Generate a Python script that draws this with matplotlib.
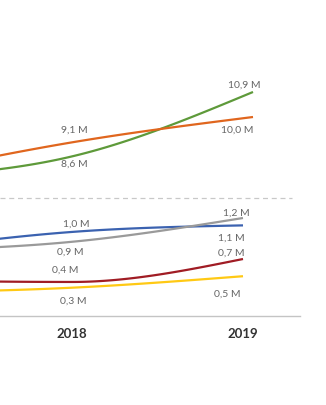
import numpy as np
import matplotlib
matplotlib.use("Agg")
import matplotlib.pyplot as plt

plt.rcParams['font.family'] = ['Lato', 'DejaVu Sans']

# data (millions); the 2017 point sits off the left edge of the crop
years = [2017, 2018, 2019]

top_green = [7.8, 8.6, 10.9]
top_orange = [7.85, 9.1, 10.0]

bot_blue = [0.8, 1.03, 1.11]
bot_gray = [0.80, 0.91, 1.20]
bot_red = [0.44, 0.42, 0.70]
bot_yellow = [0.29, 0.35, 0.49]

tick_years = [2018, 2019]
tick_labels = ["2018", "2019"]

# label texts: (series, year index, text, offset px)
top_labels = [
    ("green", 2, "10,9 M", (-9, 8)),
    ("orange", 2, "10,0 M", (-16, -12)),
    ("orange", 1, "9,1 M", (0, 13)),
    ("green", 1, "8,6 M", (0, -7)),
]
bot_labels = [
    ("gray", 2, "1,2 M", (-7, 6)),
    ("blue", 2, "1,1 M", (-12, -12)),
    ("red", 2, "0,7 M", (-12, 7)),
    ("yellow", 2, "0,5 M", (-16, -17)),
    ("blue", 1, "1,0 M", (4, 9)),
    ("gray", 1, "0,9 M", (-2, -9)),
    ("red", 1, "0,4 M", (-7, 13)),
    ("yellow", 1, "0,3 M", (1, -12)),
]

colors = {
    "green": "#5e9a3a",
    "orange": "#e0661e",
    "blue": "#3b62b0",
    "gray": "#9a9a9a",
    "red": "#a01c24",
    "yellow": "#ffc914",
}


def monotone(x, y, n=60):
    # d3 curveMonotoneX style smoothing
    x = np.asarray(x, float)
    y = np.asarray(y, float)
    h = np.diff(x)
    s = np.diff(y) / h
    t = np.zeros(len(x))
    for i in range(1, len(x) - 1):
        p = (s[i - 1] * h[i] + s[i] * h[i - 1]) / (h[i - 1] + h[i])
        t[i] = (np.sign(s[i - 1]) + np.sign(s[i])) * min(abs(s[i - 1]), abs(s[i]), 0.5 * abs(p))
    t[0] = (3 * s[0] - t[1]) / 2
    t[-1] = (3 * s[-1] - t[-2]) / 2
    xs, ys = [], []
    for i in range(len(x) - 1):
        u = np.linspace(0, 1, n)
        h00 = 2 * u**3 - 3 * u**2 + 1
        h10 = u**3 - 2 * u**2 + u
        h01 = -2 * u**3 + 3 * u**2
        h11 = u**3 - u**2
        xs.append(x[i] + u * h[i])
        ys.append(h00 * y[i] + h10 * h[i] * t[i] + h01 * y[i + 1] + h11 * h[i] * t[i + 1])
    return np.concatenate(xs), np.concatenate(ys)


W, H = 326, 406
fig = plt.figure(figsize=(W / 100, H / 100), dpi=100)

ax_top = fig.add_axes([0, 1 - 200 / H, 300 / W, 200 / H])
ax_bot = fig.add_axes([0, 1 - 317.4 / H, 300 / W, 117.4 / H])

for ax in (ax_top, ax_bot):
    for sp in ax.spines.values():
        sp.set_visible(False)
    ax.set_yticks([])
    ax.patch.set_alpha(0)

top_series = {"green": top_green, "orange": top_orange}
bot_series = {"blue": bot_blue, "gray": bot_gray, "red": bot_red, "yellow": bot_yellow}

for name, vals in top_series.items():
    xs, ys = monotone(years, vals)
    ax_top.plot(xs, ys, color=colors[name], lw=1.6, solid_capstyle='butt')
for name, vals in bot_series.items():
    xs, ys = monotone(years, vals)
    ax_bot.plot(xs, ys, color=colors[name], lw=1.6, solid_capstyle='butt')

ax_top.set_xlim(2018 - 74 / 179, 2018 + 226 / 179)
ax_top.set_ylim(10.0 - 82 / 27.8, 10.0 + 118 / 27.8)
ax_top.set_xticks([])
ax_top.axhline(ax_top.get_ylim()[0] + 0.02, xmin=0, xmax=292 / 300, color="#c8c8c8",
               lw=0.9, ls=(0, (4, 3)), clip_on=False)

ax_bot.set_xlim(2018 - 72 / 171, 2018 + 228 / 171)
ax_bot.set_ylim(0, 1.2 + 19 / 82)
ax_bot.spines['bottom'].set_visible(True)
ax_bot.spines['bottom'].set_color("#c4c4c4")
ax_bot.spines['bottom'].set_linewidth(1.0)
ax_bot.set_xticks(tick_years)
ax_bot.set_xticklabels(tick_labels, fontsize=9.5, fontweight='bold', color="#333333")
ax_bot.tick_params(axis='x', length=0, pad=7.5)

for name, i, txt, off in top_labels:
    ax_top.annotate(txt, (years[i], top_series[name][i]), xytext=off,
                    textcoords='offset pixels', ha='center', va='center',
                    fontsize=7.5, color="#666666")
for name, i, txt, off in bot_labels:
    ax_bot.annotate(txt, (years[i], bot_series[name][i]), xytext=off,
                    textcoords='offset pixels', ha='center', va='center',
                    fontsize=7.5, color="#666666")

fig.savefig("out.png", dpi=100)
